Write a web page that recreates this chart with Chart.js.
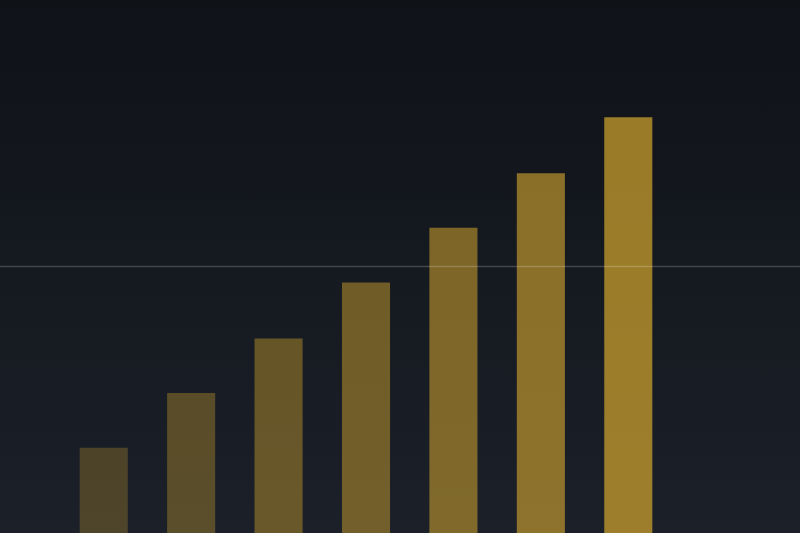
<!DOCTYPE html>
<html>
<head>
<meta charset="utf-8">
<script src="https://cdn.jsdelivr.net/npm/chart.js@4"></script>
<style>
  html, body { margin: 0; padding: 0; width: 800px; height: 533px; overflow: hidden;
    background: linear-gradient(to bottom, #0f1217 0%, #151920 50%, #1b2029 100%); }
  #wrap { position: relative; width: 800px; height: 533px; }
</style>
</head>
<body>
<div id="wrap"><canvas id="c"></canvas></div>
<script>
const categories = ['1', '2', '3', '4', '5', '6', '7'];
const values = [32, 52.5, 73, 94, 114.5, 135, 156];
const alphas = [0.28, 0.35, 0.42, 0.48, 0.55, 0.62, 0.70];
const threshold = 100;

const refLine = {
  id: 'refLine',
  afterDatasetsDraw(chart) {
    const y = chart.scales.y.getPixelForValue(threshold);
    const ctx = chart.ctx;
    ctx.save();
    ctx.strokeStyle = 'rgba(255,255,255,0.2)';
    ctx.lineWidth = 1.5;
    ctx.beginPath();
    ctx.moveTo(0, y);
    ctx.lineTo(chart.width, y);
    ctx.stroke();
    ctx.restore();
  }
};

new Chart(document.getElementById('c'), {
  type: 'bar',
  data: {
    labels: categories,
    datasets: [{
      data: values,
      backgroundColor: alphas.map(a => `rgba(212,166,46,${a})`),
      borderWidth: 0,
      barPercentage: 0.55,
      categoryPercentage: 1.0
    }]
  },
  options: {
    responsive: true,
    maintainAspectRatio: false,
    animation: false,
    layout: { padding: { left: 60, right: 128, top: 0, bottom: 0 } },
    plugins: { legend: { display: false }, tooltip: { enabled: false } },
    scales: {
      x: { display: false },
      y: { display: false, min: 0, max: 200 }
    }
  },
  plugins: [refLine]
});
</script>
</body>
</html>
